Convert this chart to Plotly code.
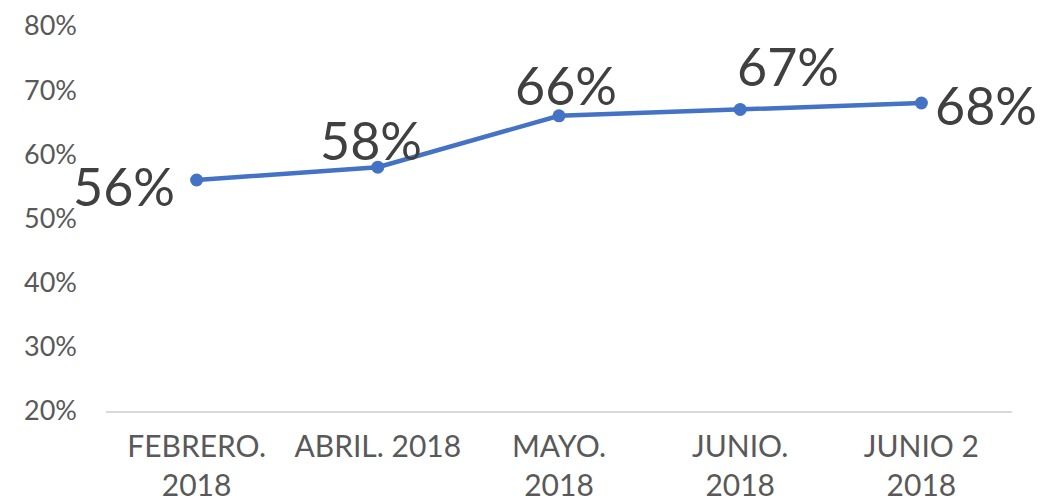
import plotly.graph_objects as go

categories = ["FEBRERO.<br>2018", "ABRIL. 2018", "MAYO.<br>2018", "JUNIO.<br>2018", "JUNIO 2<br>2018"]
values = [0.56, 0.58, 0.66, 0.67, 0.68]
labels = ["56%", "58%", "66%", "67%", "68%"]
y_ticks = [0.2, 0.3, 0.4, 0.5, 0.6, 0.7, 0.8]
y_tick_text = ["20%", "30%", "40%", "50%", "60%", "70%", "80%"]

# label placement (styling only)
label_style = [
    dict(xanchor="right", yanchor="middle", xshift=-20, yshift=-6),
    dict(xanchor="center", yanchor="bottom", xshift=-7, yshift=-6),
    dict(xanchor="center", yanchor="bottom", xshift=7, yshift=-2),
    dict(xanchor="center", yanchor="bottom", xshift=48, yshift=10),
    dict(xanchor="left", yanchor="middle", xshift=12, yshift=-2),
]

FONT = "Lato, 'Open Sans', sans-serif"

fig = go.Figure()
fig.add_trace(go.Scatter(
    x=categories, y=values, mode="lines+markers",
    line=dict(color="#4472C4", width=4.5),
    marker=dict(color="#4472C4", size=13),
    hoverinfo="skip", showlegend=False,
))

for c, v, t, s in zip(categories, values, labels, label_style):
    fig.add_annotation(x=c, y=v, text=t, showarrow=False, **s)

fig.update_annotations(font=dict(family=FONT, size=52, color="#404040"))

fig.update_layout(
    width=1050, height=500,
    margin=dict(l=98, r=46, t=18, b=97),
    paper_bgcolor="white", plot_bgcolor="white",
    font=dict(family=FONT, color="#595959", size=28),
    xaxis=dict(
        range=[-0.5, 4.5], automargin=False, ticklabeloverflow="allow",
        showgrid=False, showline=True, linecolor="#D9D9D9", linewidth=2,
        tickfont=dict(size=30, color="#595959"), ticks="", fixedrange=True,
        ticklabelstandoff=8,
    ),
    yaxis=dict(
        range=[0.2, 0.8], tickvals=y_ticks, ticktext=y_tick_text, automargin=False,
        ticklabeloverflow="allow",
        showgrid=False, zeroline=False, showline=False,
        tickfont=dict(size=27, color="#595959"), ticklabelstandoff=28,
    ),
)

fig.write_html("out.html")
